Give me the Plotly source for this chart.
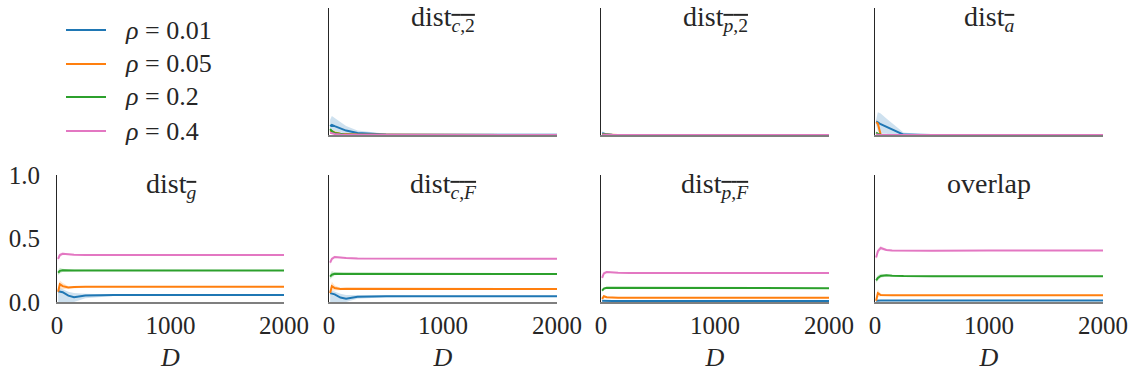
import plotly.graph_objects as go

# ---------------- data ----------------
D = [10, 25, 50, 100, 150, 250, 500, 1000, 1500, 2000]
rho_labels = ["0.01", "0.05", "0.2", "0.4"]
colors = ["#1f77b4", "#ff7f0e", "#2ca02c", "#e377c2"]
fills = ["rgba(31,119,180,0.22)", "rgba(255,127,14,0.22)", "rgba(44,160,44,0.22)", "rgba(227,119,194,0.22)"]

# dist_{c,2}
c2_mean = [
    [0.07, 0.08, 0.07, 0.05, 0.035, 0.015, 0.004, 0.002, 0.001, 0.001],
    [0.035, 0.03, 0.02, 0.01, 0.006, 0.003, 0.001, 0.001, 0.0, 0.0],
    [0.047, 0.03, 0.015, 0.006, 0.003, 0.002, 0.001, 0.001, 0.0, 0.0],
    [0.018, 0.015, 0.008, 0.004, 0.002, 0.001, 0.001, 0.0, 0.0, 0.0],
]
c2_lo = [
    [0.02, 0.03, 0.03, 0.02, 0.01, 0.004, 0.001, 0.0, 0.0, 0.0],
    [0.025, 0.02, 0.012, 0.005, 0.003, 0.001, 0.0, 0.0, 0.0, 0.0],
    [0.035, 0.02, 0.008, 0.003, 0.001, 0.001, 0.0, 0.0, 0.0, 0.0],
    [0.01, 0.008, 0.004, 0.002, 0.001, 0.0, 0.0, 0.0, 0.0, 0.0],
]
c2_hi = [
    [0.12, 0.15, 0.13, 0.10, 0.07, 0.035, 0.01, 0.004, 0.002, 0.002],
    [0.045, 0.04, 0.028, 0.015, 0.009, 0.005, 0.002, 0.001, 0.001, 0.001],
    [0.06, 0.04, 0.022, 0.009, 0.005, 0.003, 0.002, 0.001, 0.001, 0.001],
    [0.026, 0.022, 0.012, 0.006, 0.003, 0.002, 0.001, 0.001, 0.0, 0.0],
]

# dist_{p,2}
p2_mean = [
    [0.015, 0.01, 0.005, 0.002, 0.001, 0.001, 0.0, 0.0, 0.0, 0.0],
    [0.004, 0.003, 0.002, 0.001, 0.0, 0.0, 0.0, 0.0, 0.0, 0.0],
    [0.003, 0.002, 0.001, 0.0, 0.0, 0.0, 0.0, 0.0, 0.0, 0.0],
    [0.002, 0.001, 0.001, 0.0, 0.0, 0.0, 0.0, 0.0, 0.0, 0.0],
]
p2_lo = [
    [0.0, 0.0, 0.0, 0.0, 0.0, 0.0, 0.0, 0.0, 0.0, 0.0],
    [0.001, 0.001, 0.0, 0.0, 0.0, 0.0, 0.0, 0.0, 0.0, 0.0],
    [0.001, 0.0, 0.0, 0.0, 0.0, 0.0, 0.0, 0.0, 0.0, 0.0],
    [0.0, 0.0, 0.0, 0.0, 0.0, 0.0, 0.0, 0.0, 0.0, 0.0],
]
p2_hi = [
    [0.03, 0.022, 0.012, 0.005, 0.002, 0.001, 0.001, 0.0, 0.0, 0.0],
    [0.007, 0.005, 0.003, 0.001, 0.001, 0.0, 0.0, 0.0, 0.0, 0.0],
    [0.005, 0.003, 0.002, 0.001, 0.0, 0.0, 0.0, 0.0, 0.0, 0.0],
    [0.004, 0.002, 0.001, 0.001, 0.0, 0.0, 0.0, 0.0, 0.0, 0.0],
]

# dist_{a}
a_mean = [
    [0.105, 0.1, 0.085, 0.065, 0.04, 0.003, 0.0, 0.0, 0.0, 0.0],
    [0.1, 0.09, 0.002, 0.0, 0.0, 0.0, 0.0, 0.0, 0.0, 0.0],
    [0.02, 0.01, 0.002, 0.0, 0.0, 0.0, 0.0, 0.0, 0.0, 0.0],
    [0.005, 0.002, 0.0, 0.0, 0.0, 0.0, 0.0, 0.0, 0.0, 0.0],
]
a_lo = [
    [0.08, 0.03, 0.01, 0.01, 0.0, 0.0, 0.0, 0.0, 0.0, 0.0],
    [0.08, 0.07, 0.0, 0.0, 0.0, 0.0, 0.0, 0.0, 0.0, 0.0],
    [0.01, 0.005, 0.0, 0.0, 0.0, 0.0, 0.0, 0.0, 0.0, 0.0],
    [0.0, 0.0, 0.0, 0.0, 0.0, 0.0, 0.0, 0.0, 0.0, 0.0],
]
a_hi = [
    [0.12, 0.18, 0.17, 0.13, 0.09, 0.02, 0.0, 0.0, 0.0, 0.0],
    [0.12, 0.11, 0.005, 0.0, 0.0, 0.0, 0.0, 0.0, 0.0, 0.0],
    [0.03, 0.015, 0.004, 0.0, 0.0, 0.0, 0.0, 0.0, 0.0, 0.0],
    [0.01, 0.004, 0.0, 0.0, 0.0, 0.0, 0.0, 0.0, 0.0, 0.0],
]

# dist_{g}
g_mean = [
    [0.085, 0.082, 0.077, 0.05, 0.038, 0.052, 0.055, 0.055, 0.055, 0.055],
    [0.08, 0.14, 0.125, 0.115, 0.118, 0.121, 0.121, 0.121, 0.121, 0.121],
    [0.23, 0.245, 0.25, 0.248, 0.248, 0.248, 0.248, 0.248, 0.248, 0.248],
    [0.34, 0.37, 0.38, 0.375, 0.372, 0.37, 0.37, 0.37, 0.37, 0.37],
]
g_lo = [
    [0.0, 0.0, 0.0, 0.0, 0.0, 0.03, 0.047, 0.051, 0.052, 0.052],
    [0.06, 0.1, 0.1, 0.105, 0.11, 0.115, 0.117, 0.118, 0.118, 0.118],
    [0.21, 0.225, 0.238, 0.24, 0.242, 0.244, 0.245, 0.245, 0.245, 0.245],
    [0.32, 0.355, 0.37, 0.368, 0.367, 0.366, 0.367, 0.367, 0.367, 0.367],
]
g_hi = [
    [0.1, 0.11, 0.1, 0.08, 0.07, 0.065, 0.06, 0.058, 0.058, 0.058],
    [0.1, 0.17, 0.15, 0.125, 0.126, 0.127, 0.125, 0.124, 0.124, 0.124],
    [0.25, 0.27, 0.262, 0.256, 0.254, 0.252, 0.251, 0.251, 0.251, 0.251],
    [0.36, 0.385, 0.39, 0.382, 0.377, 0.374, 0.373, 0.373, 0.373, 0.373],
]

# dist_{c,F}
cF_mean = [
    [0.07, 0.065, 0.06, 0.035, 0.025, 0.042, 0.045, 0.045, 0.045, 0.045],
    [0.07, 0.125, 0.11, 0.103, 0.104, 0.104, 0.103, 0.103, 0.103, 0.103],
    [0.2, 0.215, 0.222, 0.222, 0.22, 0.22, 0.22, 0.22, 0.22, 0.22],
    [0.31, 0.34, 0.355, 0.35, 0.346, 0.343, 0.342, 0.341, 0.341, 0.341],
]
cF_lo = [
    [0.0, 0.0, 0.0, 0.0, 0.0, 0.025, 0.038, 0.042, 0.043, 0.043],
    [0.05, 0.09, 0.09, 0.094, 0.097, 0.099, 0.1, 0.1, 0.1, 0.1],
    [0.18, 0.19, 0.21, 0.214, 0.215, 0.216, 0.217, 0.217, 0.217, 0.217],
    [0.29, 0.325, 0.345, 0.343, 0.341, 0.339, 0.339, 0.339, 0.339, 0.339],
]
cF_hi = [
    [0.09, 0.09, 0.085, 0.065, 0.055, 0.055, 0.052, 0.048, 0.047, 0.047],
    [0.09, 0.16, 0.13, 0.112, 0.111, 0.109, 0.106, 0.106, 0.106, 0.106],
    [0.22, 0.245, 0.235, 0.23, 0.226, 0.224, 0.223, 0.223, 0.223, 0.223],
    [0.33, 0.355, 0.365, 0.357, 0.351, 0.347, 0.345, 0.343, 0.343, 0.343],
]

# dist_{p,F}
pF_mean = [
    [0.01, 0.009, 0.008, 0.008, 0.008, 0.008, 0.008, 0.008, 0.008, 0.008],
    [0.025, 0.045, 0.037, 0.034, 0.034, 0.034, 0.034, 0.034, 0.034, 0.034],
    [0.09, 0.105, 0.112, 0.112, 0.11, 0.109, 0.109, 0.109, 0.109, 0.109],
    [0.19, 0.225, 0.236, 0.232, 0.23, 0.229, 0.228, 0.228, 0.228, 0.228],
]
pF_lo = [
    [0.004, 0.004, 0.005, 0.006, 0.006, 0.007, 0.007, 0.007, 0.007, 0.007],
    [0.015, 0.03, 0.03, 0.03, 0.031, 0.032, 0.032, 0.032, 0.032, 0.032],
    [0.08, 0.095, 0.105, 0.107, 0.106, 0.106, 0.107, 0.107, 0.107, 0.107],
    [0.175, 0.21, 0.228, 0.227, 0.226, 0.226, 0.226, 0.226, 0.226, 0.226],
]
pF_hi = [
    [0.016, 0.014, 0.011, 0.01, 0.01, 0.009, 0.009, 0.009, 0.009, 0.009],
    [0.035, 0.06, 0.044, 0.038, 0.037, 0.036, 0.036, 0.036, 0.036, 0.036],
    [0.1, 0.115, 0.119, 0.117, 0.114, 0.112, 0.111, 0.111, 0.111, 0.111],
    [0.205, 0.24, 0.244, 0.237, 0.234, 0.232, 0.23, 0.23, 0.23, 0.23],
]

# overlap
ov_mean = [
    [0.01, 0.012, 0.012, 0.012, 0.012, 0.012, 0.012, 0.012, 0.012, 0.012],
    [0.01, 0.07, 0.055, 0.052, 0.053, 0.053, 0.053, 0.053, 0.053, 0.053],
    [0.17, 0.19, 0.205, 0.21, 0.207, 0.204, 0.203, 0.203, 0.203, 0.203],
    [0.35, 0.4, 0.425, 0.41, 0.405, 0.403, 0.403, 0.405, 0.405, 0.405],
]
ov_lo = [
    [0.005, 0.007, 0.009, 0.01, 0.01, 0.011, 0.011, 0.011, 0.011, 0.011],
    [0.0, 0.04, 0.045, 0.047, 0.049, 0.05, 0.051, 0.051, 0.051, 0.051],
    [0.15, 0.17, 0.19, 0.2, 0.2, 0.2, 0.2, 0.2, 0.2, 0.2],
    [0.33, 0.38, 0.41, 0.402, 0.4, 0.399, 0.4, 0.402, 0.402, 0.402],
]
ov_hi = [
    [0.015, 0.017, 0.015, 0.014, 0.014, 0.013, 0.013, 0.013, 0.013, 0.013],
    [0.02, 0.1, 0.065, 0.057, 0.057, 0.056, 0.055, 0.055, 0.055, 0.055],
    [0.19, 0.21, 0.222, 0.22, 0.214, 0.208, 0.206, 0.206, 0.206, 0.206],
    [0.37, 0.42, 0.44, 0.418, 0.41, 0.407, 0.406, 0.408, 0.408, 0.408],
]

OL = "<span style='text-decoration:overline'>{}</span>"
titles = [
    "dist<sub><i>" + OL.format("c") + "</i>" + OL.format(",2") + "</sub>",
    "dist<sub><i>" + OL.format("p") + "</i>" + OL.format(",2") + "</sub>",
    "dist<sub><i>" + OL.format("a") + "</i></sub>",
    "dist<sub><i>" + OL.format("g") + "</i></sub>",
    "dist<sub><i>" + OL.format("c") + "</i>" + OL.format(",") + "<i>" + OL.format("F") + "</i></sub>",
    "dist<sub><i>" + OL.format("p") + "</i>" + OL.format(",") + "<i>" + OL.format("F") + "</i></sub>",
    "overlap",
]
panels = [
    (c2_mean, c2_lo, c2_hi),
    (p2_mean, p2_lo, p2_hi),
    (a_mean, a_lo, a_hi),
    (g_mean, g_lo, g_hi),
    (cF_mean, cF_lo, cF_hi),
    (pF_mean, pF_lo, pF_hi),
    (ov_mean, ov_lo, ov_hi),
]

# ---------------- layout geometry ----------------
W, H = 1135, 379
col_px = [(57, 284), (329, 557), (601, 829), (875, 1103)]
row_px = [(8, 135), (175, 302)]
slots = [(0, 1), (0, 2), (0, 3), (1, 0), (1, 1), (1, 2), (1, 3)]
legend_rows_px = [30, 64, 97, 131]

FONT = "Liberation Serif"
TXT = "#262626"

fig = go.Figure()
layout = dict(
    width=W, height=H,
    margin=dict(l=0, r=0, t=0, b=0, autoexpand=False),
    paper_bgcolor="white", plot_bgcolor="white",
    font=dict(family=FONT, size=24, color=TXT),
    showlegend=False,
)
annotations = []
shapes = []

for k, ((mean, lo, hi), (r, c)) in enumerate(zip(panels, slots)):
    idx = k + 1
    xa = "x" if idx == 1 else f"x{idx}"
    ya = "y" if idx == 1 else f"y{idx}"
    xkey = "xaxis" if idx == 1 else f"xaxis{idx}"
    ykey = "yaxis" if idx == 1 else f"yaxis{idx}"
    x0, x1 = col_px[c]
    y0, y1 = row_px[r]
    bottom = r == 1
    leftmost = (r == 1 and c == 0)
    xdict = dict(
        domain=[x0 / W, x1 / W], anchor=ya, range=[0, 2000], automargin=False,
        showgrid=False, zeroline=False, showline=True, linecolor="#7f7f7f", linewidth=1.5,
        ticks="", tickvals=[0, 1000, 2000], showticklabels=bottom,
        tickfont=dict(family=FONT, size=25, color=TXT), ticklabelstandoff=0,
        fixedrange=True,
    )
    if bottom:
        xdict["title"] = dict(text="<i>D</i>", font=dict(family=FONT, size=26, color=TXT), standoff=10)
    layout[xkey] = xdict
    layout[ykey] = dict(
        domain=[1 - y1 / H, 1 - y0 / H], anchor=xa, range=[0, 1], automargin=False,
        showgrid=False, zeroline=False, showline=True, linecolor="#262626", linewidth=1,
        ticks="", tickvals=[0, 0.5, 1.0], tickformat=".1f", showticklabels=leftmost,
        tickfont=dict(family=FONT, size=25, color=TXT), ticklabelstandoff=11,
        fixedrange=True,
    )
    for s in range(4):
        fig.add_trace(go.Scatter(
            x=D + D[::-1], y=lo[s] + hi[s][::-1], fill="toself", fillcolor=fills[s],
            line=dict(width=0), mode="lines", hoverinfo="skip", showlegend=False,
            xaxis=xa, yaxis=ya,
        ))
    for s in range(4):
        fig.add_trace(go.Scatter(
            x=D, y=mean[s], mode="lines", line=dict(color=colors[s], width=2),
            name=f"ρ = {rho_labels[s]}", showlegend=False,
            xaxis=xa, yaxis=ya,
        ))
    annotations.append(dict(
        text=titles[k], xref="paper", yref="paper",
        x=(x0 + x1) / 2 / W, y=1 - (y0 - 9) / H, xanchor="center", yanchor="top",
        showarrow=False, font=dict(family=FONT, size=28, color=TXT),
    ))

# legend (drawn as keys + labels in the empty top-left cell)
for s in range(4):
    yp = 1 - legend_rows_px[s] / H
    shapes.append(dict(type="line", xref="paper", yref="paper",
                       x0=66 / W, x1=106 / W, y0=yp, y1=yp,
                       line=dict(color=colors[s], width=2)))
    annotations.append(dict(
        text=f"<i>ρ</i> = {rho_labels[s]}", xref="paper", yref="paper",
        x=123 / W, y=yp, xanchor="left", yanchor="middle", showarrow=False,
        font=dict(family=FONT, size=26, color=TXT),
    ))

layout["annotations"] = annotations
layout["shapes"] = shapes
fig.update_layout(**layout)
fig.write_html("out.html")
